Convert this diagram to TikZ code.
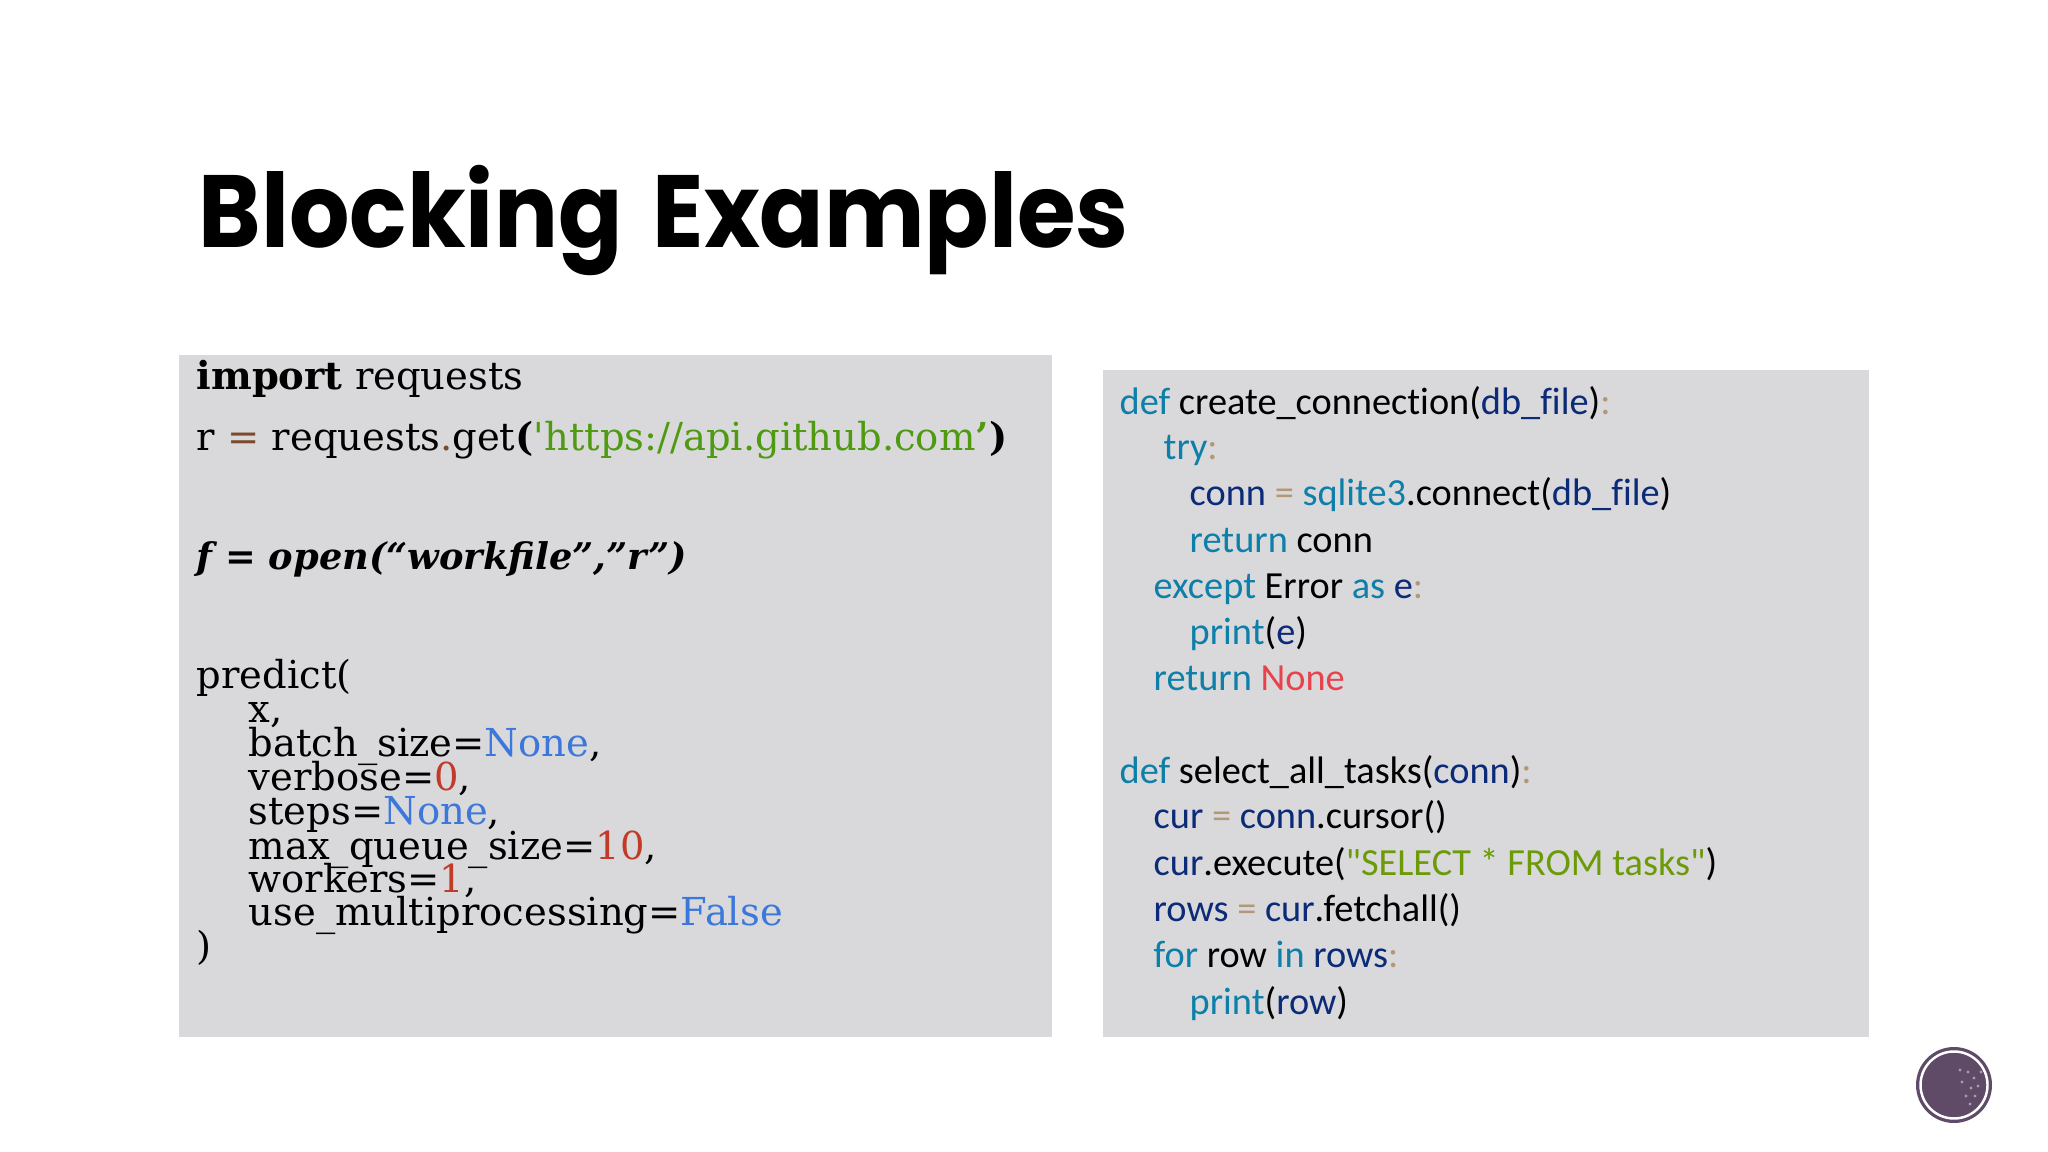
\documentclass[tikz,border=0pt]{standalone}
\usepackage{fontspec}
\setmainfont{DejaVu Serif}
\newfontfamily\rawserif{DejaVu Serif}
\newfontfamily\titlefont[FakeStretch=0.925,WordSpace=1.5]{Poppins}
\newfontfamily\calibrifont[Ligatures=NoCommon]{Carlito}
\definecolor{panelgray}{HTML}{D9D9DB}
\definecolor{strgreen}{HTML}{4E9A10}
\definecolor{opbrown}{HTML}{7A4A2A}
\definecolor{constblue}{HTML}{3C78DC}
\definecolor{numred}{HTML}{C23A28}
\definecolor{kwteal}{HTML}{0E7FA8}
\definecolor{varnavy}{HTML}{0B2A78}
\definecolor{optan}{HTML}{B39878}
\definecolor{sqlgreen}{HTML}{6C9A08}
\definecolor{nonered}{HTML}{E8434C}
\definecolor{badgeplum}{HTML}{5F4A68}
\newcommand{\kw}[1]{\textcolor{kwteal}{#1}}
\newcommand{\vr}[1]{\textcolor{varnavy}{#1}}
\newcommand{\op}[1]{\textcolor{optan}{#1}}
\newcommand{\cn}[1]{\textcolor{constblue}{#1}}
\newcommand{\nm}[1]{\textcolor{numred}{#1}}
\tikzset{
  panel/.style={fill=panelgray, draw=none},
  leftcode/.style={anchor=base west, inner sep=0pt, font=\fontsize{10.95pt}{12pt}\selectfont},
  rightcode/.style={anchor=base west, inner sep=0pt, font=\calibrifont\fontsize{10.9pt}{12pt}\selectfont},
}
\begin{document}
\begin{tikzpicture}[x=0.01cm, y=-0.01cm]
    \useasboundingbox (0,0) rectangle (2048,1152);
    \fill[white] (0,0) rectangle (2048,1152);
    \node[anchor=base west, inner sep=0pt, font=\titlefont\bfseries\fontsize{29.2pt}{32pt}\selectfont] (title) at (198,248) {Blocking Examples};
    \path[panel] (179,355) rectangle (1052,1037);
    \path[panel] (1103,370) rectangle (1869,1037);
    % left panel
    \foreach \y/\xpos/\xtext in {
        390/196/{\textbf{import} requests},
        451/196/{r \textcolor{opbrown}{=} requests\textcolor{opbrown}{.}get\textbf{(}\textcolor{strgreen}{{\rawserif '}https://api.github.com\textbf{’}}\textbf{)}},
        570/196/{\fontsize{10.45pt}{12pt}\selectfont\textbf{\textit{f = open(“workfile”,”r”)}}},
        689/196/{predict(},
        722/248/{x,},
        756/248/{batch\_size=\cn{None},},
        790/248/{verbose=\nm{0},},
        824/248/{steps=\cn{None},},
        859/248/{max\_queue\_size=\nm{10},},
        892/248/{workers=\nm{1},},
        925/248/{use\_multiprocessing=\cn{False}},
        959/196/{)}}
      \node[leftcode] (left\y) at (\xpos,\y) {\xtext};
    % right panel
    \foreach \y/\xpos/\xtext in {
        415/1119/{\kw{def} create\_connection(\vr{db\_file})\op{:}},
        460/1163/{\kw{try}\op{:}},
        506/1189/{\vr{conn} \op{=} \kw{sqlite3}.connect(\vr{db\_file})},
        553/1189/{\kw{return} conn},
        598/1153/{\kw{except} Error \kw{as} \vr{e}\op{:}},
        645/1189/{\kw{print}(\vr{e})},
        690/1153/{\kw{return} \textcolor{nonered}{None}},
        783/1119/{\kw{def} select\_all\_tasks(\vr{conn})\op{:}},
        828/1153/{\vr{cur} \op{=} \vr{conn}.cursor()},
        875/1153/{\vr{cur}.execute(\textcolor{sqlgreen}{"SELECT * FROM tasks"})},
        921/1153/{\vr{rows} \op{=} \vr{cur}.fetchall()},
        967/1153/{\kw{for} row \kw{in} \vr{rows}\op{:}},
        1014/1189/{\kw{print}(\vr{row})}}
      \node[rightcode] (right\y) at (\xpos,\y) {\xtext};
    % badge
    \fill[badgeplum] (1954,1085) circle (38);
    \foreach \x/\y in {1962/1082, 1968/1072, 1974/1078, 1971/1088, 1978/1086, 1966/1096, 1975/1096, 1981/1072, 1960/1070, 1970/1104}
      \fill[badgeplum!55!white] (\x,\y) circle (1.6);
    \draw[white, line width=0.7pt] (1954,1085) circle (33.5);
  \end{tikzpicture}
\end{document}
